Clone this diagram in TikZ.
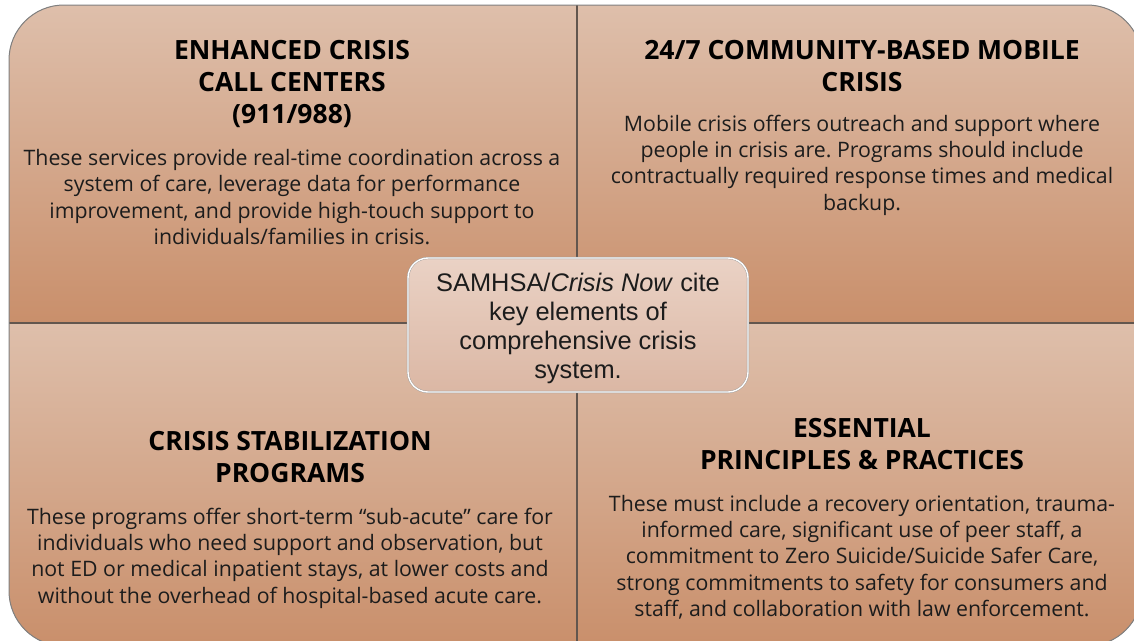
\documentclass[tikz,border=0pt]{standalone}
\usepackage{fontspec}
\setmainfont{Open Sans}
\newfontfamily\corefont{Liberation Sans}
\usetikzlibrary{positioning}
\frenchspacing

\definecolor{quadtop}{RGB}{222,191,171}
\definecolor{quadbot}{RGB}{201,143,107}
\definecolor{divline}{RGB}{98,86,78}
\definecolor{coretop}{RGB}{234,210,197}
\definecolor{corebot}{RGB}{219,183,164}
\definecolor{inkgray}{RGB}{28,28,28}

\begin{document}
\begin{tikzpicture}[x=1pt,y=-1pt,
  heading/.style={font=\fontsize{26.5}{32}\selectfont\bfseries, align=center, inner sep=0pt, text=black},
  body/.style={font=\fontsize{21.3}{26.3}\selectfont, align=center, inner sep=0pt, text=inkgray},
  corebox/.style={rounded corners=20pt, draw=gray!80, double=white, double distance=1.4pt,
                  top color=coretop, bottom color=corebot, minimum width=340pt, minimum height=134pt,
                  align=center, font=\corefont\fontsize{25.4}{28.8}\selectfont, text=inkgray}]
 \useasboundingbox (0,0) rectangle (1134,640);
 % quadrants
 \coordinate (nw) at (9,5);
 \coordinate (se) at (1142,646);
 \begin{scope}
   \clip[rounded corners=55pt] (nw) rectangle (se);
   \fill[top color=quadtop, bottom color=quadbot] (9,5) rectangle (1142,323);
   \fill[top color=quadtop, bottom color=quadbot] (9,323) rectangle (1142,646);
   \draw[divline, line width=1.6pt] (577,5) -- (577,646);
   \draw[divline, line width=1.6pt] (9,323) -- (1142,323);
 \end{scope}
 \draw[gray, line width=1pt, rounded corners=55pt] (nw) rectangle (se);

 % headings
 \node[heading] (callhead) at (292,84) {ENHANCED CRISIS\\CALL CENTERS\\(911/988)};
 \node[heading] (mobilehead) at (862,66) {24/7 COMMUNITY-BASED MOBILE\\CRISIS};
 \node[heading] (stabhead) at (290,457) {CRISIS STABILIZATION\\PROGRAMS};
 \node[heading] (princhead) at (862,444) {ESSENTIAL\\PRINCIPLES \& PRACTICES};

 % texts
 \node[body] (calltext) at (292,197) {These services provide real-time coordination across a\\system of care, leverage data for performance\\improvement, and provide high-touch support to\\individuals/families in crisis.};
 \node[body] (mobiletext) at (862,165) {Mobile crisis offers outreach and support where\\people in crisis are. Programs should include\\contractually required response times and medical\\backup.};
 \node[body] (stabtext) at (290,558) {These programs offer short-term “sub-acute” care for\\individuals who need support and observation, but\\not ED or medical inpatient stays, at lower costs and\\without the overhead of hospital-based acute care.};
 \node[body] (princtext) at (862,557) {These must include a recovery orientation, trauma-\\informed care, significant use of peer staff, a\\commitment to Zero Suicide/Suicide Safer Care,\\strong commitments to safety for consumers and\\staff, and collaboration with law enforcement.};

 % centre
 \node[corebox] (core) at (578,325) {\rule{0pt}{25pt}SAMHSA/\textit{Crisis Now} cite\\key elements of\\comprehensive crisis\\system.};
\end{tikzpicture}
\end{document}
